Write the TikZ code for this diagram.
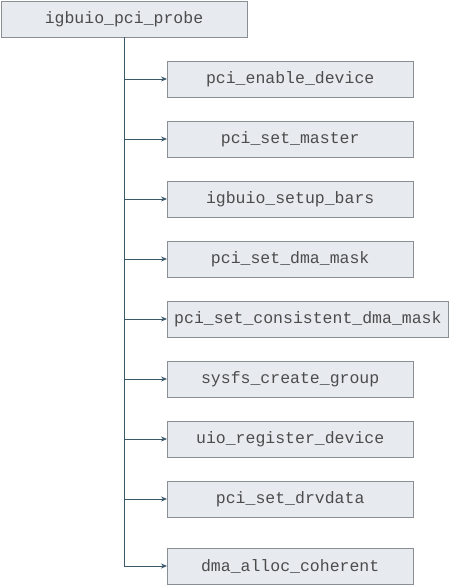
\documentclass[tikz,border=0pt]{standalone}
\usepackage{fontspec}
\setmonofont{Liberation Mono}
\usepackage{xcolor}
\usepackage{tikz}
\usetikzlibrary{arrows.meta}

\definecolor{boxfill}{HTML}{E7EBF0}
\definecolor{boxline}{HTML}{8A8F96}
\definecolor{linkline}{HTML}{3B5869}

\begin{document}
\begin{tikzpicture}[
      x=1pt, y=-1pt,
      fn/.style={
        draw=boxline,
        fill=boxfill,
        rectangle,
        font=\ttfamily\fontsize{16.5}{18}\selectfont,
        text=black!70,
        inner xsep=7pt,
        minimum width=246pt,
        minimum height=36pt,
        anchor=west
      },
      link/.style={
        -{Stealth[length=6pt,width=5pt]},
        thick,
        linkline
      }
      ]
        \useasboundingbox (0,0) rectangle (448,585);

        \node[fn, anchor=center] (probe) at (124,19) {igbuio\_pci\_probe};

        \node[fn] (enable) at (167,79) {pci\_enable\_device};
        \node[fn] (master) at (167,139) {pci\_set\_master};
        \node[fn] (bars) at (167,199) {igbuio\_setup\_bars};
        \node[fn] (dmamask) at (167,259) {pci\_set\_dma\_mask};
        \node[fn] (consistent) at (167,319) {pci\_set\_consistent\_dma\_mask};
        \node[fn] (sysfs) at (167,379) {sysfs\_create\_group};
        \node[fn] (uioreg) at (167,439) {uio\_register\_device};
        \node[fn] (drvdata) at (167,499) {pci\_set\_drvdata};
        \node[fn] (coherent) at (167,566) {dma\_alloc\_coherent};

        % appels depuis probe
        \draw[link] (probe.south) |- (enable.west);
        \draw[link] (probe.south) |- (master.west);
        \draw[link] (probe.south) |- (bars.west);
        \draw[link] (probe.south) |- (dmamask.west);
        \draw[link] (probe.south) |- (consistent.west);
        \draw[link] (probe.south) |- (sysfs.west);
        \draw[link] (probe.south) |- (uioreg.west);
        \draw[link] (probe.south) |- (drvdata.west);
        \draw[link] (probe.south) |- (coherent.west);
    \end{tikzpicture}
\end{document}
